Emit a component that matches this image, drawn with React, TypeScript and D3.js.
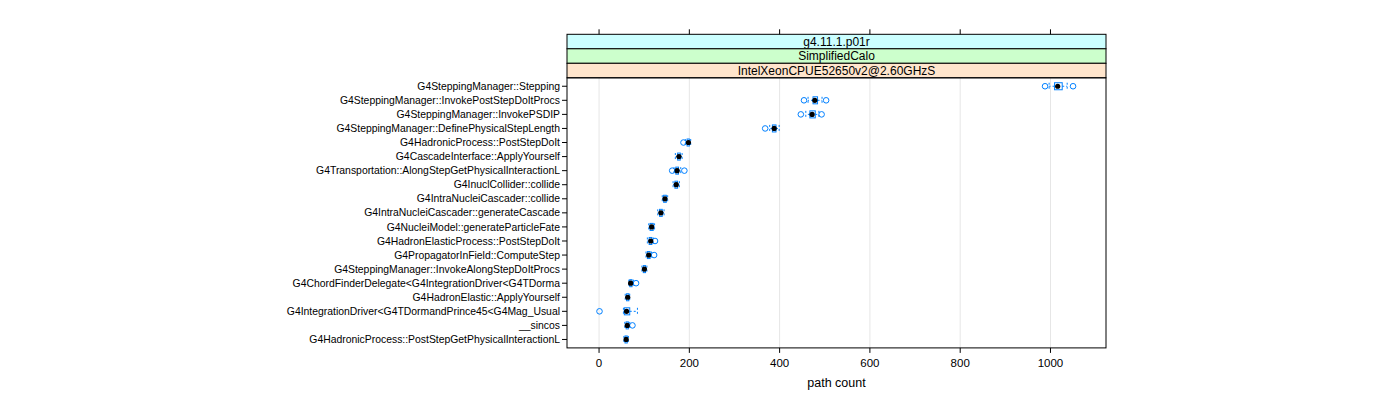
import React from "react";
import * as d3 from "d3";

const categories = [
  "G4SteppingManager::Stepping",
  "G4SteppingManager::InvokePostStepDoItProcs",
  "G4SteppingManager::InvokePSDIP",
  "G4SteppingManager::DefinePhysicalStepLength",
  "G4HadronicProcess::PostStepDoIt",
  "G4CascadeInterface::ApplyYourself",
  "G4Transportation::AlongStepGetPhysicalInteractionL",
  "G4InuclCollider::collide",
  "G4IntraNucleiCascader::collide",
  "G4IntraNucleiCascader::generateCascade",
  "G4NucleiModel::generateParticleFate",
  "G4HadronElasticProcess::PostStepDoIt",
  "G4PropagatorInField::ComputeStep",
  "G4SteppingManager::InvokeAlongStepDoItProcs",
  "G4ChordFinderDelegate<G4IntegrationDriver<G4TDorma",
  "G4HadronElastic::ApplyYourself",
  "G4IntegrationDriver<G4TDormandPrince45<G4Mag_Usual",
  "__sincos",
  "G4HadronicProcess::PostStepGetPhysicalInteractionL",
];

const medians = [1016, 478, 472, 388, 198, 177, 173, 171, 146, 137, 116.5, 114.5, 110, 100.5, 70, 63.5, 61, 62.5, 60];
const lowerQuartiles = [1009, 474, 467, 384, 195, 174, 170, 168, 143, 134, 113, 111, 107, 98, 68, 61, 56, 60, 57.5];
const upperQuartiles = [1026, 484, 479, 392, 200, 180, 176, 174, 149, 140, 120, 117, 113, 103, 73, 66, 68, 65, 62.5];
const whiskerLow = [997, 463, 458, 378, 191, 169, 166, 164, 140, 130, 110, 107, 104, 95, 66, 58, 54, 57, 55];
const whiskerHigh = [1037, 494, 487, 399, 203, 184, 181, 178, 152, 144, 123, 120, 116, 106, 76, 68, 85, 68, 65];
const outliers: number[][] = [
  [988, 1050],
  [454, 503],
  [447, 493],
  [368],
  [187],
  [],
  [162, 189],
  [],
  [],
  [],
  [],
  [124],
  [122],
  [],
  [82],
  [],
  [1],
  [74],
  [],
];

const xTicks = [0, 200, 400, 600, 800, 1000];
const strips = [
  { label: "g4.11.1.p01r", color: "#ccffff" },
  { label: "SimplifiedCalo", color: "#ccffcc" },
  { label: "IntelXeonCPUE52650v2@2.60GHzS", color: "#ffe5cc" },
];
const xLabel = "path count";

const FONT = "'Liberation Sans', Arial, Helvetica, sans-serif";
const BLUE = "#0080ff";

const App: React.FC = () => {
  const panel = { left: 567, right: 1106, top: 77.8, bottom: 347.9 };
  const stripH = 14.5;

  const x = d3.scaleLinear().domain([-71, 1123]).range([panel.left, panel.right]);
  const y = d3
    .scalePoint<string>()
    .domain(categories)
    .range([panel.top, panel.bottom])
    .padding(0.6);
  const boxH = y.step() * 0.5;

  const stripTop = panel.top - stripH * strips.length;

  return (
    <svg width={1400} height={400} style={{ position: "absolute", left: 0, top: 0 }} fontFamily={FONT}>
      <rect width={1400} height={400} fill="#fff" />
      {/* grid */}
      {xTicks.map((t) => (
        <line key={"g" + t} x1={x(t)} x2={x(t)} y1={panel.top} y2={panel.bottom} stroke="#e6e6e6" />
      ))}
      {/* strips */}
      {strips.map((s, i) => (
        <g key={s.label}>
          <rect
            x={panel.left}
            y={stripTop + i * stripH}
            width={panel.right - panel.left}
            height={stripH}
            fill={s.color}
            stroke="#000"
          />
          <text
            x={(panel.left + panel.right) / 2}
            y={stripTop + i * stripH + stripH / 2}
            dy="0.36em"
            textAnchor="middle"
            fontSize={12}
          >
            {s.label}
          </text>
        </g>
      ))}
      {/* top ticks */}
      {xTicks.map((t) => (
        <line key={"tt" + t} x1={x(t)} x2={x(t)} y1={stripTop - 5} y2={stripTop} stroke="#000" />
      ))}
      {/* bottom ticks & labels */}
      {xTicks.map((t) => (
        <g key={"bt" + t}>
          <line x1={x(t)} x2={x(t)} y1={panel.bottom} y2={panel.bottom + 5} stroke="#000" />
          <text x={x(t)} y={panel.bottom + 15} dy="0.35em" textAnchor="middle" fontSize={11.5}>
            {t}
          </text>
        </g>
      ))}
      <text x={(panel.left + panel.right) / 2} y={383} dy="0.35em" textAnchor="middle" fontSize={12.5}>
        {xLabel}
      </text>
      {/* y ticks & labels */}
      {categories.map((c) => (
        <g key={"yl" + c}>
          <line x1={panel.left - 5} x2={panel.left} y1={y(c)} y2={y(c)} stroke="#000" />
          <text x={panel.left - 7} y={y(c)} dy="0.35em" textAnchor="end" fontSize={10.4}>
            {c}
          </text>
        </g>
      ))}
      {/* boxes */}
      {categories.map((c, i) => {
        const cy = y(c) as number;
        return (
          <g key={"b" + c}>
            <line x1={x(lowerQuartiles[i])} x2={x(whiskerLow[i])} y1={cy} y2={cy} stroke={BLUE} strokeDasharray="2,2" />
            <line x1={x(upperQuartiles[i])} x2={x(whiskerHigh[i])} y1={cy} y2={cy} stroke={BLUE} strokeDasharray="2,2" />
            <line x1={x(whiskerLow[i])} x2={x(whiskerLow[i])} y1={cy - boxH / 2} y2={cy + boxH / 2} stroke={BLUE} strokeDasharray="2,2" />
            <line x1={x(whiskerHigh[i])} x2={x(whiskerHigh[i])} y1={cy - boxH / 2} y2={cy + boxH / 2} stroke={BLUE} strokeDasharray="2,2" />
            <rect
              x={x(lowerQuartiles[i])}
              y={cy - boxH / 2}
              width={x(upperQuartiles[i]) - x(lowerQuartiles[i])}
              height={boxH}
              fill="none"
              stroke={BLUE}
            />
            {outliers[i].map((o, j) => (
              <circle key={j} cx={x(o)} cy={cy} r={2.8} fill="none" stroke={BLUE} />
            ))}
            <circle cx={x(medians[i])} cy={cy} r={2.6} fill="#000" />
          </g>
        );
      })}
      {/* panel border */}
      <rect
        x={panel.left}
        y={panel.top}
        width={panel.right - panel.left}
        height={panel.bottom - panel.top}
        fill="none"
        stroke="#000"
      />
    </svg>
  );
};

export default App;
